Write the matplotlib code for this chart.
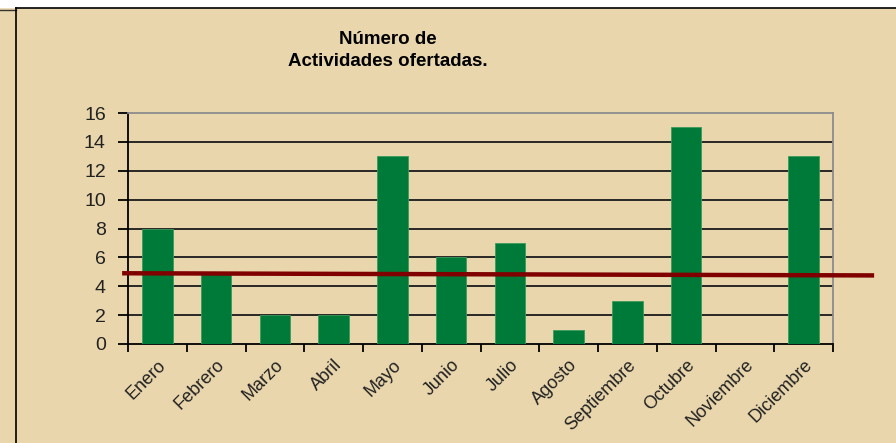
import matplotlib.pyplot as plt
from matplotlib.lines import Line2D
from matplotlib.patches import Rectangle

meses = ['Enero', 'Febrero', 'Marzo', 'Abril', 'Mayo', 'Junio', 'Julio',
         'Agosto', 'Septiembre', 'Octubre', 'Noviembre', 'Diciembre']
actividades = [8, 5, 2, 2, 13, 6, 7, 1, 3, 15, 0, 13]
# reference line drawn over the chart (slightly tilted)
linea_x = [-0.6, 12.2]
linea_y = [4.9, 4.75]

plt.rcParams['font.family'] = ['Liberation Sans', 'DejaVu Sans']
beige = '#E9D6AC'

fig = plt.figure(figsize=(8.96, 4.43), dpi=100)
fig.patch.set_facecolor(beige)
ax = fig.add_axes([128/896, 1-344/443, (833-128)/896, (344-113)/443])
ax.set_facecolor(beige)

x = list(range(len(meses)))
ax.bar(x, actividades, width=0.52, color='#007A38', edgecolor='#3C9A5C',
       linewidth=0.6, zorder=3)

ax.set_xlim(-0.5, len(meses) - 0.5)
ax.set_ylim(0, 16)
ax.set_yticks(range(0, 17, 2))
for v in range(2, 16, 2):
    ax.axhline(v, color='#1a1a1a', lw=1.3, zorder=1)

ax.set_xticks([i - 0.5 for i in range(len(meses) + 1)])
ax.set_xticklabels([])
ax.set_xticks(x, minor=True)
ax.set_xticklabels(meses, minor=True, rotation=45, ha='right',
                   rotation_mode='anchor', fontsize=13, color='#222222')
ax.tick_params(axis='x', which='minor', length=0, pad=9)
ax.tick_params(axis='x', which='major', length=6, width=1.3, direction='out')
ax.tick_params(axis='y', length=7, width=1.3, labelsize=14, pad=9,
               labelcolor='#222222')

for s in ['left', 'bottom']:
    ax.spines[s].set_color('black')
    ax.spines[s].set_linewidth(1.3)
for s in ['top', 'right']:
    ax.spines[s].set_color('#8c8c8c')
    ax.spines[s].set_linewidth(1.3)

ax.plot(linea_x, linea_y, color='#800000', lw=3.2, clip_on=False, zorder=4,
        solid_capstyle='butt')

fig.text(388/896, 1-39/443, 'Número de', ha='center', va='center',
         fontsize=13.5, fontweight='bold')
fig.text(388/896, 1-62/443, 'Actividades ofertadas.', ha='center', va='center',
         fontsize=13.5, fontweight='bold')

# outer frame
fig.add_artist(Rectangle((0, 1-7/443), 1, 7/443, transform=fig.transFigure,
                         color='white', zorder=0))
fig.add_artist(Line2D([16/896, 1], [1-8/443, 1-8/443], color='black', lw=1.2))
fig.add_artist(Line2D([0, 16/896], [1-10/443, 1-10/443], color='#333333', lw=1))
fig.add_artist(Line2D([16/896, 16/896], [0, 1-8/443], color='black', lw=1.2))

fig.savefig('out.png', dpi=100, facecolor=beige)
